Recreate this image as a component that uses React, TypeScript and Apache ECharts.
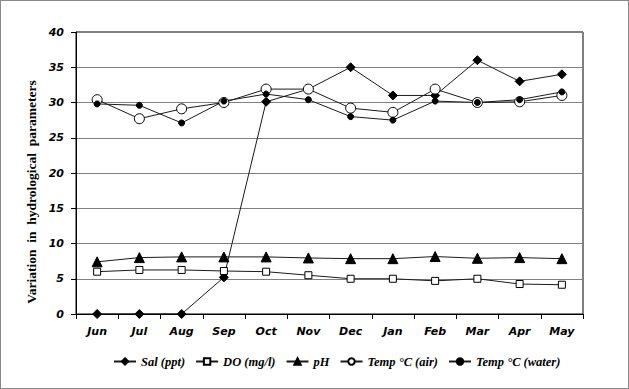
import React, { useEffect, useRef } from "react";
import * as echarts from "echarts";

const months = ["Jun", "Jul", "Aug", "Sep", "Oct", "Nov", "Dec", "Jan", "Feb", "Mar", "Apr", "May"];
const sal = [0, 0, 0, 5.2, 30.1, 31.9, 35, 31, 31, 36, 33, 34];
const dO = [6.0, 6.25, 6.25, 6.1, 6.0, 5.5, 5.0, 5.0, 4.7, 5.0, 4.25, 4.15];
const ph = [7.4, 8.0, 8.1, 8.1, 8.1, 7.95, 7.85, 7.85, 8.15, 7.9, 8.0, 7.85];
const tempAir = [30.4, 27.7, 29.1, 30.0, 31.9, 31.9, 29.2, 28.6, 31.9, 30.0, 30.1, 31.0];
const tempWater = [29.8, 29.6, 27.1, 30.2, 31.2, 30.4, 28.0, 27.5, 30.2, 30.0, 30.4, 31.5];
const yTicks = [0, 5, 10, 15, 20, 25, 30, 35, 40];
const yTitle = "Variation  in  hydrological  parameters";

export default function App() {
  const ref = useRef<HTMLDivElement>(null);
  useEffect(() => {
    if (!ref.current) return;
    const chart = echarts.init(ref.current, null, { renderer: "svg" });
    const lineStyle = { color: "#1a1a1a", width: 1 };
    const mk = (name: string, data: number[], symbol: string, size: number, fill: string) => ({
      name,
      type: "line",
      data,
      symbol,
      symbolSize: size,
      lineStyle,
      itemStyle: { color: fill, borderColor: "#000", borderWidth: 1 },
      emphasis: { disabled: true },
    });
    chart.setOption({
      animation: false,
      grid: { left: 76, top: 32, right: 46, bottom: 75, show: true, borderColor: "#000", borderWidth: 1 },
      graphic: [
        {
          type: "text",
          x: 31,
          y: 192,
          rotation: Math.PI / 2,
          style: {
            text: yTitle,
            fontFamily: "Liberation Serif",
            fontWeight: "bold",
            fontSize: 13.5,
            fill: "#000",
            align: "center",
            verticalAlign: "middle",
          },
        },
      ],
      xAxis: {
        type: "category",
        data: months,
        boundaryGap: true,
        axisLine: { lineStyle: { color: "#000" } },
        axisTick: { show: true, length: 5, lineStyle: { color: "#000" } },
        axisLabel: { fontFamily: "DejaVu Sans", fontStyle: "italic", fontWeight: "bold", fontSize: 11, color: "#000", margin: 12 },
      },
      yAxis: {
        type: "value",
        min: yTicks[0],
        max: yTicks[yTicks.length - 1],
        interval: 5,
        axisLine: { show: true, lineStyle: { color: "#000" } },
        axisTick: { show: true, length: 5, lineStyle: { color: "#000" } },
        axisLabel: { fontFamily: "DejaVu Sans", fontStyle: "italic", fontWeight: "bold", fontSize: 11, color: "#000", margin: 12 },
        splitLine: { lineStyle: { color: "#808080", width: 1 } },
      },
      legend: {
        bottom: 16,
        left: 108,
        itemWidth: 22,
        itemHeight: 8,
        itemGap: 10,
        textStyle: { fontFamily: "Liberation Serif", fontStyle: "italic", fontWeight: "bold", fontSize: 12.5, color: "#000" },
      },
      series: [
        mk("Sal (ppt)", sal, "diamond", 9, "#000"),
        mk("DO (mg/l)", dO, "rect", 7, "#fff"),
        mk("pH", ph, "triangle", 10, "#000"),
        mk("Temp °C (air)", tempAir, "circle", 10, "#fff"),
        mk("Temp °C (water)", tempWater, "circle", 6, "#000"),
      ],
    });
    return () => chart.dispose();
  }, []);
  return (
    <div style={{ position: "fixed", left: 0, top: 0, width: 629, height: 389, background: "#fff" }}>
      <div ref={ref} style={{ width: 629, height: 389 }} />
      <div style={{ position: "absolute", left: 0, top: 0, width: 629, height: 389, boxSizing: "border-box", border: "1px solid #888", pointerEvents: "none" }} />
    </div>
  );
}
